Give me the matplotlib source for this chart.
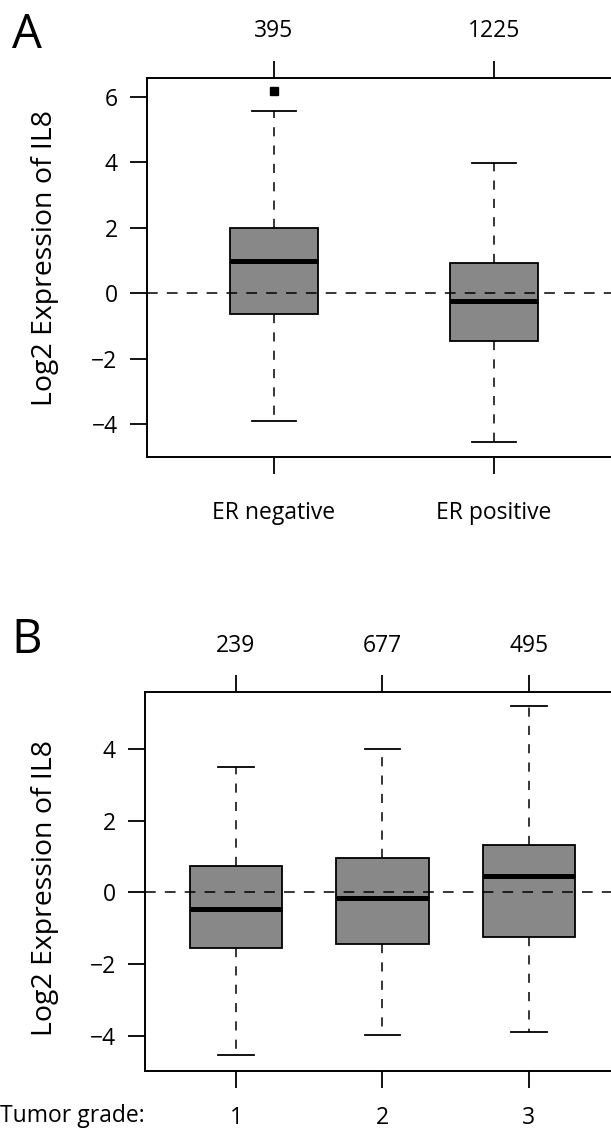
import matplotlib
matplotlib.use("Agg")
import matplotlib.pyplot as plt

plt.rcParams["font.family"] = ["Open Sans", "DejaVu Sans"]

# panel A: ER status
er_groups = ["ER negative", "ER positive"]
er_counts = ["395", "1225"]
er_whislo = [-3.91, -4.56]
er_q1 = [-0.64, -1.47]
er_med = [0.99, -0.24]
er_q3 = [1.98, 0.93]
er_whishi = [5.57, 3.97]
er_fliers = [[6.16], []]

# panel B: tumor grade
grade_groups = ["1", "2", "3"]
grade_counts = ["239", "677", "495"]
grade_whislo = [-4.54, -3.98, -3.90]
grade_q1 = [-1.55, -1.44, -1.24]
grade_med = [-0.46, -0.15, 0.46]
grade_q3 = [0.74, 0.96, 1.33]
grade_whishi = [3.50, 4.00, 5.20]
grade_fliers = [[], [], []]

FS = 16.5
GRAY = "#888888"


def make_stats(lo, q1, med, q3, hi, fl):
    return [dict(whislo=a, q1=b, med=c, q3=d, whishi=e, fliers=f)
            for a, b, c, d, e, f in zip(lo, q1, med, q3, hi, fl)]


def draw_panel(ax, stats, labels, counts, xlim, ylim, yticks, bw, cw):
    pos = list(range(1, len(stats) + 1))
    ax.axhline(0, color="black", lw=1.1, linestyle=(0, (7, 6)), zorder=4)
    ax.bxp(
        stats,
        positions=pos,
        widths=bw,
        capwidths=cw,
        patch_artist=True,
        boxprops=dict(facecolor=GRAY, edgecolor="black", linewidth=1.3),
        medianprops=dict(color="black", linewidth=3.6, solid_capstyle="butt"),
        whiskerprops=dict(color="black", linewidth=1.1, linestyle=(0, (6, 6))),
        capprops=dict(color="black", linewidth=1.3),
        flierprops=dict(marker="s", markersize=5.5, markerfacecolor="black",
                        markeredgecolor="black"),
        zorder=3,
    )
    ax.set_xlim(*xlim)
    ax.set_ylim(*ylim)
    ax.set_yticks(yticks)
    ax.set_yticklabels([str(t).replace("-", "\u2212") for t in yticks])
    ax.set_xticks(pos)
    ax.set_xticklabels(labels)
    for s in ax.spines.values():
        s.set_linewidth(1.4)
    ax.tick_params(axis="both", length=12, width=1.3, labelsize=FS, direction="out")
    ax.tick_params(axis="y", pad=9)

    top = ax.secondary_xaxis("top")
    top.set_xticks(pos)
    top.set_xticklabels(counts)
    top.spines["top"].set_visible(False)
    top.tick_params(length=12, width=1.3, labelsize=FS, pad=13)


fig = plt.figure(figsize=(6.11, 11.3), dpi=100)

ax1 = fig.add_axes([0.2401, 0.5958, 0.776, 0.3354])
draw_panel(ax1, make_stats(er_whislo, er_q1, er_med, er_q3, er_whishi, er_fliers),
           er_groups, er_counts, (0.422, 2.578), (-5.0, 6.58), [-4, -2, 0, 2, 4, 6],
           0.4, 0.2)
ax1.tick_params(axis="x", pad=20)

ax2 = fig.add_axes([0.2373, 0.0522, 0.7774, 0.3351])
draw_panel(ax2, make_stats(grade_whislo, grade_q1, grade_med, grade_q3, grade_whishi,
                           grade_fliers),
           grade_groups, grade_counts, (0.379, 3.621), (-4.99, 5.59), [-4, -2, 0, 2, 4],
           0.63, 0.245)
ax2.tick_params(axis="x", pad=13)

fig.text(45 / 611, 1 - 258 / 1130, "Log2 Expression of IL8", rotation=90,
         ha="center", va="center", fontsize=20.5)
fig.text(45 / 611, 1 - 888 / 1130, "Log2 Expression of IL8", rotation=90,
         ha="center", va="center", fontsize=20.5)
fig.text(0, 1 - 1116 / 1130, "Tumor grade:", ha="left", va="center", fontsize=FS)

fig.text(27 / 611, 1 - 35 / 1130, "A", ha="center", va="center", fontsize=34)
fig.text(27 / 611, 1 - 640 / 1130, "B", ha="center", va="center", fontsize=34)

fig.savefig("out.png", dpi=100)
